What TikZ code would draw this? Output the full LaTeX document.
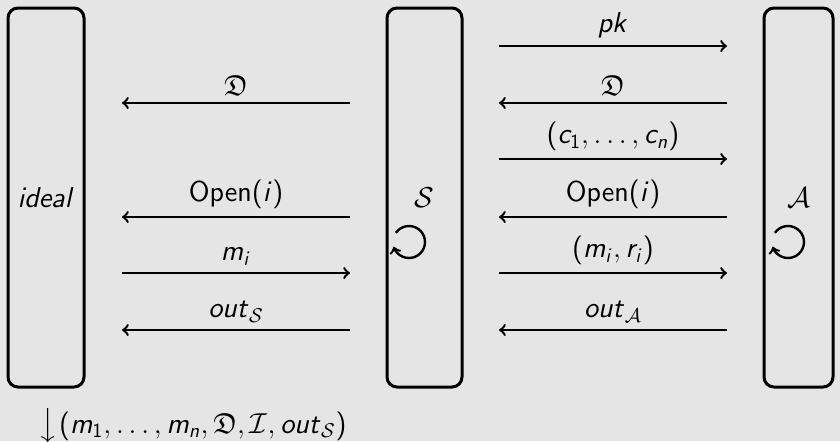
\documentclass[tikz,border=0pt]{standalone}
\usepackage{amssymb}
\usetikzlibrary{calc}
\DeclareMathAlphabet{\mathsl}{OT1}{cmss}{m}{sl}
\DeclareMathAlphabet{\mathsfu}{OT1}{cmss}{m}{n}
\newcommand{\sv}[1]{\mathsl{#1}}
\newcommand{\lp}{\mathopen{\textsf{(}}}
\newcommand{\rp}{\mathclose{\textsf{)}}}
\definecolor{bg}{RGB}{229,229,229}
\begin{document}
\begin{tikzpicture}[x=0.5pt,y=-0.5pt,
  every node/.style={font=\fontsize{14.4}{17}\selectfont\sffamily},
  party/.style={draw=black, line width=1.5pt, rounded corners=5pt, fill=none, inner sep=0pt},
  msg/.style={draw=black, line width=1.2pt, ->},
  lab/.style={midway, above},
  loopar/.style={draw=black, line width=1.2pt, ->}]
\fill[bg] (0,0) rectangle (840,441);
\useasboundingbox (0,0) rectangle (840,441);
% parties
\node[party, minimum width=38pt, minimum height=189.5pt] (ideal) at (46,197.5) {$\sv{ideal}$};
\node[party, minimum width=37.5pt, minimum height=189.5pt] (sim) at (424.5,197.5) {$\mathcal{S}$};
\node[party, minimum width=34.5pt, minimum height=189.5pt] (adv) at (798.5,197.5) {$\mathcal{A}$};
% endpoints
\foreach \n/\y in {1/46,2/103,3/159,4/217,5/273,6/330}{
  \coordinate (L\n) at (122,\y);
  \coordinate (M\n) at (350,\y);
  \coordinate (P\n) at (499,\y);
  \coordinate (Q\n) at (727,\y);
}
% ideal <-> S
\draw[msg] (M2) -- node[lab]{$\mathfrak{D}$} (L2);
\draw[msg] (M4) -- node[lab]{$\mathsfu{Open}\lp\sv{i}\rp$} (L4);
\draw[msg] (L5) -- node[lab]{$\sv{m}_{\sv{i}}$} (M5);
\draw[msg] (M6) -- node[lab]{$\sv{out}_{\mathcal{S}}$} (L6);
% S <-> A
\draw[msg] (P1) -- node[lab]{$\sv{pk}$} (Q1);
\draw[msg] (Q2) -- node[lab]{$\mathfrak{D}$} (P2);
\draw[msg] (P3) -- node[lab]{$\lp\sv{c}_{\mathsfu{1}},\ldots,\sv{c}_{\sv{n}}\rp$} (Q3);
\draw[msg] (Q4) -- node[lab]{$\mathsfu{Open}\lp\sv{i}\rp$} (P4);
\draw[msg] (P5) -- node[lab]{$\lp\sv{m}_{\sv{i}},\sv{r}_{\sv{i}}\rp$} (Q5);
\draw[msg] (Q6) -- node[lab]{$\sv{out}_{\mathcal{A}}$} (P6);
% self loops
\coordinate (simloop) at (409,242);
\coordinate (advloop) at (788,242);
\draw[loopar] (simloop) ++(-145:16) arc[start angle=-145, end angle=163, radius=16];
\draw[loopar] (advloop) ++(-145:16) arc[start angle=-145, end angle=163, radius=16];
% output
\node[anchor=base west, inner sep=0pt] (out) at (38,433) {$\mathord{\Big\downarrow}\mkern1mu\lp\sv{m}_{\mathsfu{1}},\ldots,\sv{m}_{\sv{n}},\mathfrak{D},\mathcal{I},\sv{out}_{\mathcal{S}}\rp$};
\end{tikzpicture}
\end{document}
